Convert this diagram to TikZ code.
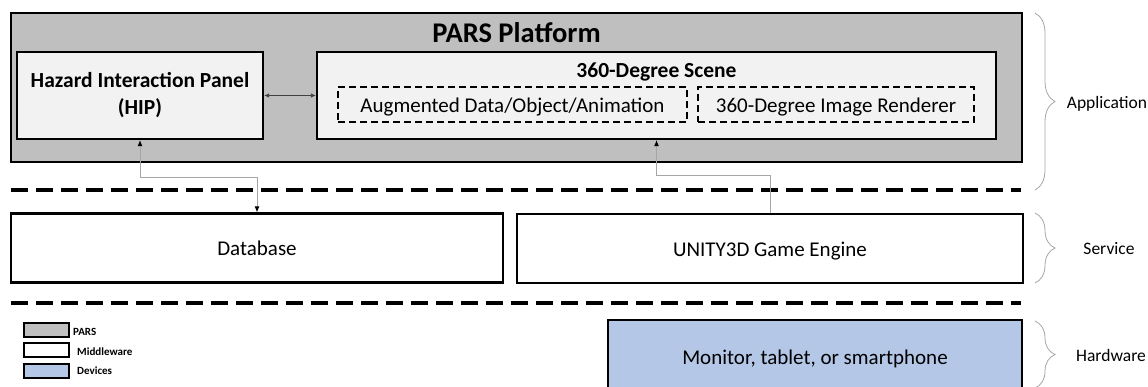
\documentclass[tikz,border=0pt]{standalone}
\usepackage{fontspec}
\setmainfont{Carlito}
\usetikzlibrary{arrows.meta,decorations.pathreplacing}

\definecolor{parsgray}{HTML}{BFBFBF}
\definecolor{panelfill}{HTML}{F2F2F2}
\definecolor{devblue}{HTML}{B4C7E7}
\definecolor{linkgray}{HTML}{A6A6A6}

\begin{document}
\begin{tikzpicture}[x=1pt,y=-1pt,
    box/.style={draw=black,line width=2.2pt,inner sep=0pt,align=center,
        font=\fontsize{21}{27}\selectfont},
    onerow/.style={text height=15pt,text depth=0pt},
    subbox/.style={draw=black,line width=1.3pt,dash pattern=on 7pt off 4pt,
        inner sep=0pt,onerow,font=\fontsize{21}{27}\selectfont},
    title/.style={inner sep=0pt,font=\fontsize{21.5}{27}\selectfont\bfseries},
    link/.style={draw=linkgray,line width=0.9pt},
    darktip/.tip={Latex[length=6pt,width=5pt,color=black]},
    layer/.style={line width=4pt,dash pattern=on 17pt off 8pt},
    brace/.style={draw=linkgray,line width=0.8pt,decorate,
        decoration={brace,amplitude=20pt}},
    side/.style={inner sep=0pt,font=\fontsize{17.5}{20}\selectfont},
    legbox/.style={draw=black,line width=2pt,minimum width=45,minimum height=14,inner sep=0pt},
    legtext/.style={anchor=west,inner sep=0pt,font=\fontsize{11}{13}\selectfont\bfseries}]
    % Fix the page size
    \clip (0,0) rectangle (1148,386);
    % PARS platform frame and its panels
    \node[box,line width=2.6pt,fill=parsgray,minimum width=1011,minimum height=149]
        (pars) at (516.5,87.5) {};
    \node[title,font=\fontsize{28.5}{32}\selectfont\bfseries] (parstitle) at (516.5,33) {PARS Platform};
    \node[box,fill=panelfill,minimum width=246,minimum height=87,font=\fontsize{21.5}{27}\selectfont\bfseries]
        (hip) at (140,95.5) {Hazard Interaction Panel\\(HIP)};
    \node[box,fill=panelfill,minimum width=679,minimum height=87] (scene) at (656.5,95.5) {};
    \node[title,onerow] (scenetitle) at (656.5,70) {360-Degree Scene};
    \node[subbox,minimum width=349,minimum height=35] (aug) at (512.5,104.5)
        {Augmented Data/Object/Animation};
    \node[subbox,minimum width=276,minimum height=35] (render) at (836,104.5)
        {360-Degree Image Renderer};
    % Layer separators
    \draw[layer] (11,190) -- (1021,190);
    \draw[layer] (11,303) -- (1021,303);
    % Service layer
    \node[box,onerow,minimum width=492,minimum height=69] (db) at (257,248) {Database};
    \node[box,onerow,minimum width=506,minimum height=69] (unity) at (770,248.5) {UNITY3D Game Engine};
    % Hardware layer
    \node[box,onerow,fill=devblue,minimum width=414,minimum height=74] (dev) at (815,357)
        {Monitor, tablet, or smartphone};
    % Connections
    \draw[black!75,line width=0.8pt,{Latex[length=5pt,width=4.5pt]}-{Latex[length=5pt,width=4.5pt]}]
        (hip.east) -- (scene.west);
    \draw[link,darktip-darktip] (hip.south) -- ++(0,37) -| (db.north);
    \draw[link,-darktip] (unity.north) -- ++(0,-37) -| (scene.south);
    % Layer braces
    \draw[brace] (1035,13) -- (1035,190);
    \node[side] (app) at (1107,104) {Application};
    \draw[brace] (1035,213) -- (1035,283);
    \node[side] (service) at (1109,249) {Service};
    \draw[brace] (1035,321) -- (1035,388);
    \node[side] (hardware) at (1111,355) {Hardware};
    % Legend
    \node[legbox,fill=parsgray] (legpars) at (46.5,330) {};
    \node[legtext] (legparstext) at (73,332) {PARS};
    \node[legbox,fill=white] (legmid) at (46.5,350) {};
    \node[legtext] (legmidtext) at (77,352) {Middleware};
    \node[legbox,fill=devblue] (legdev) at (46.5,371) {};
    \node[legtext] (legdevtext) at (77,371) {Devices};
\end{tikzpicture}
\end{document}
